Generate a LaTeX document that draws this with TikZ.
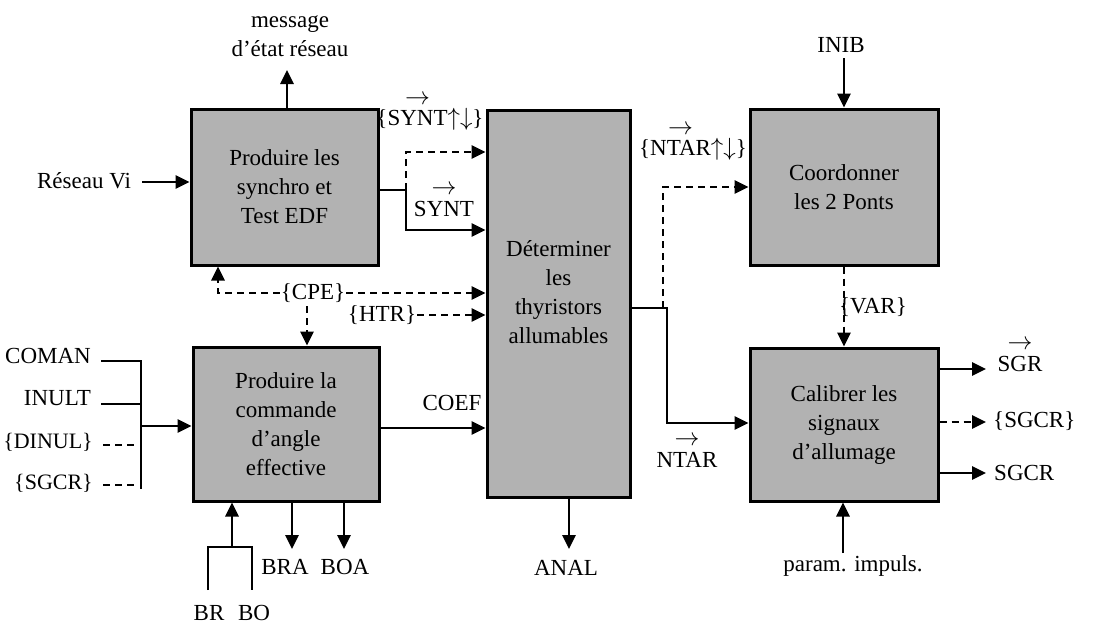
\documentclass[tikz,border=0pt]{standalone}
\usepackage{fontspec}
\setmainfont{Liberation Serif}
\usetikzlibrary{arrows.meta}
\newcommand\mydfont{\fontsize{23}{29}\selectfont}
\newcommand\mysfont{\fontsize{22}{29}\selectfont}
\newcommand\arrlbl[1]{\shortstack{$\rightarrow$\\[3pt]#1}}
\begin{document}
\begin{tikzpicture}[x=1pt,y=-1pt,
  box/.style={draw, line width=3pt, fill=black!30, align=center, font=\mydfont, inner sep=0pt},
  lbl/.style={font=\mydfont, inner sep=1pt, align=center},
  ln/.style={line width=2.8pt},
  tip/.style={-{Triangle[length=14pt,width=13pt]}},
  arr/.style={ln, tip},
  dsh/.style={ln, dash pattern=on 7pt off 5pt, tip},
  dshl/.style={ln, dash pattern=on 7pt off 5pt}]
\useasboundingbox (0,0) rectangle (1099,624);

% boxes
\node[box, minimum width=187pt, minimum height=156pt] (A) at (284.5,187) {Produire les\\synchro et\\Test EDF};
\node[box, minimum width=143pt, minimum height=387pt] (D) at (558.5,303.5) {};
\node[lbl] (Dt) at (558.5,292) {Déterminer\\les\\thyristors\\allumables};
\node[box, minimum width=188pt, minimum height=156pt] (C) at (844,187) {Coordonner\\les 2 Ponts};
\node[box, minimum width=186pt, minimum height=154pt] (B) at (286,424) {Produire la\\commande\\d'angle\\effective};
\node[box, minimum width=188pt, minimum height=153pt] (E) at (844,424.5) {Calibrer les\\signaux\\d'allumage};

% labels
\node[lbl] (msg) at (290,36) {message\\d'état réseau};
\node[lbl] (rv) at (84,181) {Réseau Vi};
\node[lbl] (syntud) at (430,113) {\{\arrlbl{SYNT}$\uparrow\downarrow$\}};
\node[lbl] (synt) at (444,201) {\arrlbl{SYNT}};
\node[lbl] (cpe) at (313,293) {\{CPE\}};
\node[lbl] (htr) at (382,315) {\{HTR\}};
\node[lbl] (coef) at (452,403) {COEF};
\node[lbl] (anal) at (566,568) {ANAL};
\node[lbl] (ntarud) at (693,143) {\{\arrlbl{NTAR}$\uparrow\downarrow$\}};
\node[lbl] (ntar) at (687,452) {\arrlbl{NTAR}};
\node[lbl] (inib) at (841,45) {INIB};
\node[lbl] (var) at (873,307) {\{VAR\}};
\node[lbl] (sgr) at (1020,356) {\arrlbl{SGR}};
\node[lbl, anchor=west] (sgcrd) at (992,421) {\{SGCR\}};
\node[lbl, anchor=west] (sgcr) at (993,473) {SGCR};
\node[lbl] (param) at (853,566) {param. impuls.};
\node[lbl, anchor=east] (coman) at (92,356) {COMAN};
\node[lbl, anchor=east] (inult) at (92,398) {INULT};
\node[lbl, anchor=east, font=\mysfont] (dinul) at (94,442) {\{DINUL\}};
\node[lbl, anchor=east, font=\mysfont] (sgcrin) at (94,483) {\{SGCR\}};
\node[lbl] (br) at (209,613) {BR};
\node[lbl] (bo) at (254,613) {BO};
\node[lbl] (bra) at (285,567) {BRA};
\node[lbl] (boa) at (345,567) {BOA};

% connectors of A
\draw[arr] (A.north -| 287,0) -- (287,70);
\draw[arr] (142,182) -- (A.west |- 0,182);
\draw[arr] (A.east |- 0,190) -- (406,190) -- (406,230) -- (D.west |- 0,230);
\draw[dsh] (406,190) -- (406,152) -- (D.west |- 0,152);

% CPE / HTR
\draw[dsh] (cpe.east) -- (D.west |- cpe.east);
\draw[dsh] (cpe.west) -- (218,293) -- (A.south -| 218,0);
\draw[dsh] (307,306) -- (B.north -| 307,0);
\draw[dsh] (htr.east) -- (D.west |- htr.east);

% B inputs
\draw[ln] (101,361) -- (141,361);
\draw[ln] (101,404) -- (141,404);
\draw[dshl] (103,445) -- (138,445);
\draw[dshl] (103,485) -- (138,485);
\draw[ln] (141,360) -- (141,489);
\draw[arr] (141,426) -- (B.west |- 0,426);

% B outputs
\draw[arr] (B.east |- 0,428) -- (D.west |- 0,428);
\draw[ln] (208,590) -- (208,547) -- (252,547) -- (252,590);
\draw[arr] (232,547) -- (B.south -| 232,0);
\draw[arr] (B.south -| 292,0) -- (292,549);
\draw[arr] (B.south -| 344,0) -- (344,549);

% D outputs
\draw[arr] (D.south -| 569,0) -- (569,549);
\draw[arr] (D.east |- 0,308) -- (667,308) -- (667,423) -- (E.west |- 0,423);
\draw[dsh] (663,308) -- (663,187) -- (C.west |- 0,187);

% C / E
\draw[arr] (C.north |- 0,58) -- (C.north);
\draw[dsh] (C.south) -- (E.north);
\draw[arr] (E.east |- 0,369) -- (986,369);
\draw[dsh] (E.east |- 0,422) -- (986,422);
\draw[arr] (E.east |- 0,473) -- (986,473);
\draw[arr] (843,553) -- (E.south -| 843,0);
\end{tikzpicture}
\end{document}
